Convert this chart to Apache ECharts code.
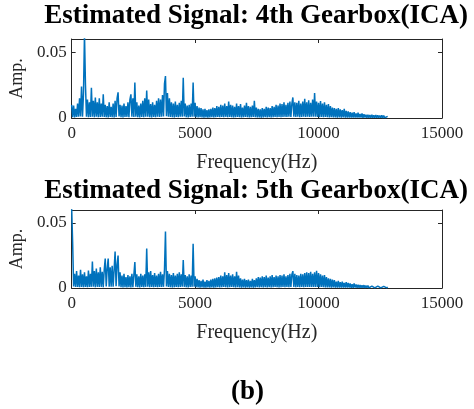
<!DOCTYPE html>
<html>
<head>
<meta charset="utf-8">
<script src="https://cdn.jsdelivr.net/npm/echarts@6/dist/echarts.min.js"></script>
<style>
  html, body { margin: 0; padding: 0; background: #fff; }
  #chart { width: 474px; height: 409px; }
</style>
</head>
<body>
<div id="chart"></div>
<script>
// Spectrum bins are spaced FREQ_STEP Hz apart, starting at 0 Hz.
const FREQ_STEP = 40;
// Amplitude spectra, in units of 1e-4.
const ampGearbox4 = [
  100,6,95,5,70,8,110,9,150,12,240,10,190,640,250,9,140,6,120,8,
  230,9,130,6,155,10,120,6,150,8,110,9,180,8,100,6,90,5,120,8,
  85,6,110,5,130,8,150,195,12,100,6,95,5,110,8,90,9,120,6,140,
  180,9,150,8,270,10,120,6,95,5,110,8,130,6,150,9,208,10,140,6,
  105,5,120,8,100,6,130,9,150,8,140,10,175,12,260,318,14,190,9,150,
  8,120,6,110,5,125,8,100,6,115,9,130,10,305,12,110,6,95,5,100,
  8,110,9,270,10,115,6,90,5,80,6,75,5,65,3,70,5,60,3,65,
  5,70,6,80,5,75,6,90,8,85,6,100,8,95,6,110,9,90,6,125,
  8,100,6,95,5,85,6,110,8,90,6,105,5,80,6,95,8,115,6,90,
  5,85,6,95,8,130,6,80,5,70,5,65,3,75,5,70,6,85,5,80,
  6,75,5,90,6,85,8,100,6,95,8,110,6,105,8,120,9,100,8,115,
  9,125,8,110,156,9,120,8,115,9,130,6,110,8,125,9,146,8,120,9,
  135,8,115,9,140,10,190,9,125,8,115,6,128,8,110,6,120,8,100,6,
  105,5,90,6,80,5,75,5,70,3,75,5,65,3,60,5,70,3,55,3,
  50,3,45,3,40,3,45,3,35,3,40,3,30,3,35,2,28,3,25,2,
  25,2,22,2,24,2,20,2,22,2,20,2,18,2,20,1,18,2,15,1,
  12
];
const ampGearbox5 = [
  620,350,12,110,8,130,9,95,6,140,8,105,6,120,9,90,6,135,8,110,
  9,204,10,130,6,150,9,120,8,160,9,125,6,140,227,12,150,227,10,160,
  9,170,10,140,280,14,180,250,12,120,6,95,5,110,6,85,5,100,6,90,
  5,110,6,100,200,9,105,6,90,5,110,8,95,6,105,9,303,10,120,6,
  130,8,100,6,115,8,95,6,110,9,125,8,105,9,140,435,12,130,8,110,
  6,100,5,115,6,95,8,110,6,120,9,105,10,215,9,100,6,90,5,105,
  8,95,9,340,10,90,6,70,5,60,3,55,5,65,3,50,3,60,5,55,
  3,65,5,70,3,75,5,80,6,85,5,95,6,90,8,120,6,100,5,115,
  6,95,8,105,6,90,5,124,6,95,5,75,3,65,5,70,3,60,5,65,
  3,55,5,70,3,60,5,75,6,85,5,80,6,90,5,85,6,95,5,80,
  6,90,5,100,6,85,8,95,6,90,5,100,6,95,8,105,6,90,8,100,
  6,110,8,105,130,9,110,6,100,8,95,6,110,8,105,6,115,8,120,9,
  115,8,125,9,110,8,120,9,133,8,115,6,105,8,95,6,100,5,85,5,
  75,5,70,3,65,5,60,3,50,3,55,3,45,3,50,3,40,3,45,3,
  40,3,35,2,30,2,35,3,28,2,25,2,22,2,20,2,22,1,18,2,
  18,1,16,2,15,1,16,1,14,1,15,1,12,1,14,1,12,1,10,1,
  8
];
const panelTitles = ['Estimated Signal: 4th Gearbox(ICA)', 'Estimated Signal: 5th Gearbox(ICA)'];
const figureLabel = '(b)';
const xRange = [0, 15000];
const xTickStep = 5000;
const yRange = [0, 0.06];
const yTickStep = 0.05;

const SERIF = "'Liberation Serif', 'Times New Roman', serif";
const AXIS_COLOR = '#262626';
const LINE_COLOR = '#0072BD';

const toPairs = arr => arr.map((a, i) => [i * FREQ_STEP, a * 1e-4]);

const grids = [
  { left: 71, top: 39, width: 371, height: 79 },
  { left: 71, top: 210, width: 371, height: 78 }
];

const xAxes = [], yAxes = [], series = [];
[ampGearbox4, ampGearbox5].forEach((amp, g) => {
  const baseLine = { show: true, onZero: false, lineStyle: { color: AXIS_COLOR, width: 1 } };
  const innerTick = { show: true, inside: true, length: 4, lineStyle: { color: AXIS_COLOR } };
  xAxes.push({
    type: 'value', gridIndex: g, position: 'bottom',
    min: xRange[0], max: xRange[1], interval: xTickStep,
    axisLine: baseLine, axisTick: innerTick,
    axisLabel: { fontFamily: SERIF, fontSize: 17, color: AXIS_COLOR, margin: 7,
                 formatter: v => String(v) },
    splitLine: { show: false },
    name: 'Frequency(Hz)', nameLocation: 'middle', nameGap: 35,
    nameTextStyle: { fontFamily: SERIF, fontSize: 20, color: AXIS_COLOR }
  });
  xAxes.push({
    type: 'value', gridIndex: g, position: 'top',
    min: xRange[0], max: xRange[1], interval: xTickStep,
    axisLine: baseLine, axisTick: innerTick,
    axisLabel: { show: false }, splitLine: { show: false }
  });
  yAxes.push({
    type: 'value', gridIndex: g, position: 'left',
    min: yRange[0], max: yRange[1], interval: yTickStep,
    axisLine: baseLine, axisTick: innerTick,
    axisLabel: { fontFamily: SERIF, fontSize: 17, color: AXIS_COLOR, margin: 5,
                 showMaxLabel: false, formatter: v => String(v) },
    splitLine: { show: false },
    name: 'Amp.', nameLocation: 'middle', nameGap: 39, nameRotate: 90,
    nameTextStyle: { fontFamily: SERIF, fontSize: 18, color: AXIS_COLOR }
  });
  yAxes.push({
    type: 'value', gridIndex: g, position: 'right',
    min: yRange[0], max: yRange[1], interval: yTickStep,
    axisLine: baseLine, axisTick: innerTick,
    axisLabel: { show: false }, splitLine: { show: false }
  });
  series.push({
    type: 'line', xAxisIndex: g * 2, yAxisIndex: g * 2,
    data: toPairs(amp), showSymbol: false, symbol: 'none', sampling: null,
    clip: true, lineStyle: { color: LINE_COLOR, width: 1.5 }, silent: true
  });
});

const titleStyle = size => ({ fontFamily: SERIF, fontWeight: 'bold', fontSize: size, color: '#000' });

const chart = echarts.init(document.getElementById('chart'), null, { renderer: 'canvas' });
chart.setOption({
  animation: false,
  backgroundColor: '#fff',
  title: [
    { text: panelTitles[0], left: 256, top: 3, textAlign: 'center', padding: 0,
      textStyle: titleStyle(27) },
    { text: panelTitles[1], left: 256, top: 178, textAlign: 'center', padding: 0,
      textStyle: titleStyle(27) },
    { text: figureLabel, left: 247.5, top: 379, textAlign: 'center', padding: 0,
      textStyle: titleStyle(27) }
  ],
  grid: grids,
  xAxis: xAxes,
  yAxis: yAxes,
  series: series
});
</script>
</body>
</html>
